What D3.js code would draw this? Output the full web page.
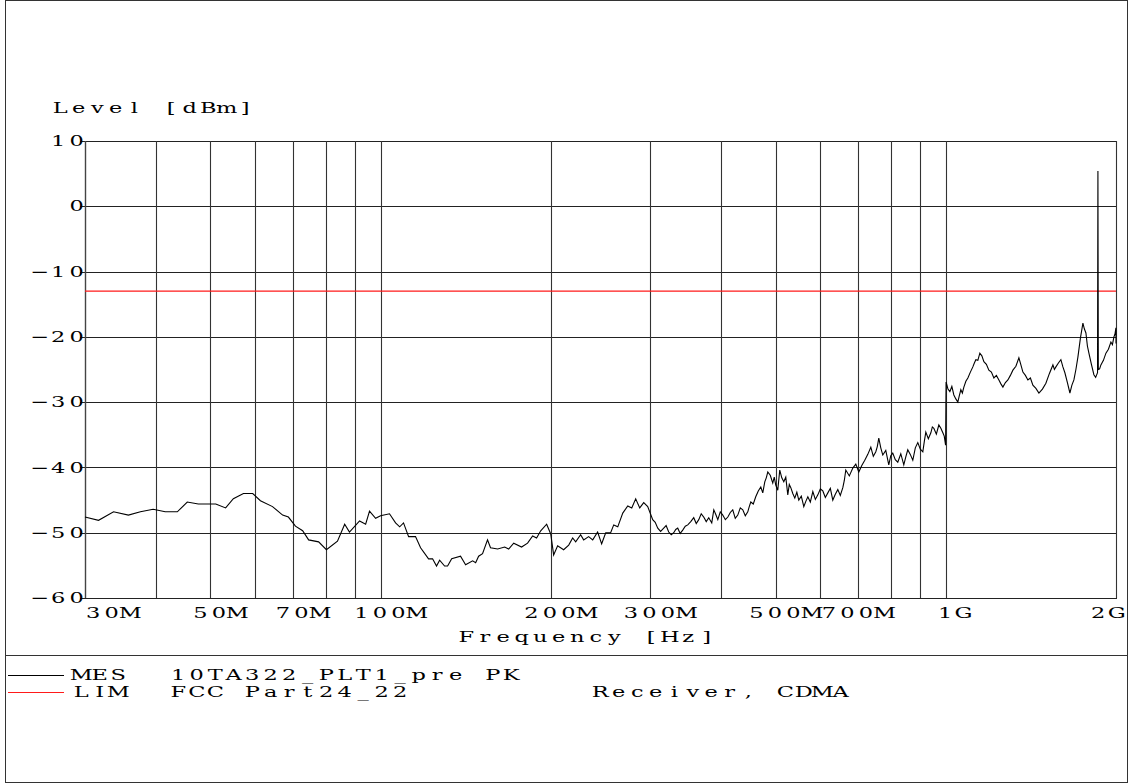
<!DOCTYPE html>
<html><head><meta charset="utf-8">
<script src="https://cdn.jsdelivr.net/npm/d3@7"></script>
<style>
html,body{margin:0;padding:0;background:#fff;}
svg text{white-space:pre;}
</style></head>
<body>
<svg id="chart" width="1129" height="784"></svg>
<script>
// ---------------- data ----------------
const yTicks = [10, 0, -10, -20, -30, -40, -50, -60];
const yTickLabels = ["10", "0", "−10", "−20", "−30", "−40", "−50", "−60"];
const gridFreqMHz = [40, 50, 60, 70, 80, 90, 100, 200, 300, 400, 500, 600, 700, 800, 900, 1000, 2000];
const xTickFreqMHz = [30, 50, 70, 100, 200, 300, 500, 700, 1000, 2000];
const xTickLabels = ["30M", "50M", "70M", "100M", "200M", "300M", "500M", "700M", "1G", "2G"];
const limFreqMHz = [30, 2000];
const limLevel = [-13, -13];
// MES trace: [frequency MHz, level dBm]
const mesPoints = [
 [30.0,-47.6],[31.7,-48.1],[33.7,-46.8],[35.8,-47.3],[37.6,-46.8],[39.6,-46.4],[41.6,-46.8],[43.7,-46.8],
 [45.5,-45.3],[47.6,-45.6],[51.1,-45.6],[53.2,-46.2],[54.9,-44.8],[57.2,-44.0],[59.4,-44.0],[61.3,-45.1],
 [64.4,-46.0],[67.1,-47.3],[68.7,-47.6],[70.7,-49.0],[72.8,-49.7],[74.6,-51.1],[77.7,-51.4],[80.2,-52.6],
 [83.9,-51.3],[86.4,-48.7],[88.1,-49.9],[91.8,-48.2],[94.1,-48.7],[95.6,-46.7],[98.0,-47.8],[100.0,-47.4],
 [103.7,-47.1],[106.3,-48.5],[108.1,-49.1],[109.8,-48.5],[112.1,-50.6],[115.3,-50.6],[117.7,-52.3],[121.6,-54.0],
 [123.6,-54.0],[125.6,-55.1],[127.2,-54.2],[129.8,-55.1],[131.4,-55.1],[133.6,-54.0],[138.5,-53.6],[141.4,-54.9],
 [145.5,-54.3],[147.3,-54.6],[149.1,-53.6],[151.5,-53.2],[154.6,-51.1],[156.5,-52.3],[161.1,-52.5],[165.8,-52.2],
 [168.5,-52.5],[172.0,-51.6],[177.6,-52.2],[182.0,-51.6],[185.8,-50.5],[188.8,-50.8],[192.0,-49.7],[196.7,-48.7],
 [200.0,-50.2],[202.4,-53.4],[205.7,-52.0],[210.8,-52.6],[215.2,-51.9],[218.7,-50.8],[221.4,-51.4],[225.9,-50.3],
 [228.7,-51.1],[233.4,-50.6],[237.3,-51.1],[242.1,-49.9],[246.1,-51.7],[250.2,-50.0],[255.3,-50.0],[258.5,-48.8],
 [262.8,-49.1],[268.2,-47.0],[273.7,-45.9],[278.2,-46.2],[282.7,-44.8],[287.4,-46.2],[292.1,-45.4],[296.9,-46.0],
 [303.0,-48.0],[306.1,-48.4],[309.3,-49.3],[312.9,-49.8],[316.9,-49.3],[320.0,-48.9],[323.4,-49.9],[326.8,-50.3],
 [330.1,-50.0],[332.8,-49.5],[335.5,-49.3],[338.9,-50.1],[342.4,-49.6],[346.0,-49.0],[349.5,-48.8],[353.8,-48.3],
 [358.1,-47.7],[361.8,-48.6],[365.5,-48.0],[369.2,-47.1],[373.0,-47.6],[376.8,-48.3],[380.7,-47.7],[385.4,-48.5],
 [388.6,-46.5],[391.8,-47.2],[395.0,-48.0],[399.0,-46.8],[403.1,-47.3],[407.3,-48.0],[411.5,-47.6],[415.6,-46.9],
 [419.8,-46.5],[424.1,-47.8],[428.5,-47.3],[432.9,-46.2],[437.3,-46.5],[441.8,-47.4],[446.3,-46.8],[449.0,-46.0],
 [451.8,-45.3],[456.4,-45.6],[461.0,-44.5],[465.8,-43.6],[470.6,-43.0],[474.4,-43.9],[478.3,-42.2],[481.2,-41.6],
 [484.2,-40.7],[489.1,-41.2],[494.1,-42.4],[497.1,-41.5],[500.2,-42.7],[504.3,-43.5],[508.4,-40.4],[512.6,-41.6],
 [516.8,-42.2],[521.0,-41.5],[525.3,-44.2],[528.5,-42.6],[531.8,-43.1],[536.1,-44.0],[540.5,-44.7],[545.0,-43.8],
 [549.4,-45.0],[555.0,-44.4],[560.7,-46.0],[565.3,-45.2],[570.0,-44.5],[575.8,-45.3],[581.7,-43.7],[587.7,-44.9],
 [593.7,-44.2],[599.8,-43.3],[605.9,-43.6],[612.1,-44.6],[618.4,-43.9],[624.7,-43.2],[631.0,-45.0],[637.5,-44.1],
 [644.0,-43.4],[650.6,-44.3],[657.3,-43.1],[661.3,-42.0],[665.3,-40.4],[674.9,-41.3],[684.6,-40.1],[693.0,-39.5],
 [701.5,-40.7],[710.1,-39.7],[718.8,-38.9],[727.7,-38.0],[736.7,-36.9],[744.2,-38.3],[751.8,-37.6],[756.4,-36.8],
 [761.0,-35.5],[767.2,-37.0],[773.5,-38.1],[783.0,-37.4],[792.6,-39.6],[799.1,-38.2],[805.6,-37.8],[813.9,-38.8],
 [822.2,-39.2],[832.4,-37.9],[842.6,-39.6],[849.5,-38.4],[856.4,-37.3],[865.2,-38.0],[874.1,-38.9],[883.1,-37.0],
 [892.1,-36.2],[901.3,-37.2],[910.5,-37.6],[916.1,-36.0],[921.7,-34.6],[931.2,-35.6],[940.8,-34.7],[946.5,-33.8],
 [952.3,-34.0],[962.1,-34.9],[971.9,-33.5],[979.9,-34.0],[987.9,-34.7],[993.5,-35.2],[999,-36.6],
 [1001,-26.9],[1008.7,-28.0],[1016.5,-28.4],[1024.8,-27.6],[1033.2,-28.9],[1041.6,-29.5],[1050.1,-30.0],[1056.5,-29.0],
 [1063.0,-28.1],[1069.6,-28.6],[1076.2,-27.7],[1085.0,-26.8],[1093.9,-26.3],[1105.1,-25.4],[1116.3,-24.6],[1123.2,-24.0],
 [1130.1,-23.5],[1139.3,-23.6],[1148.6,-22.5],[1158.1,-22.9],[1167.6,-23.8],[1179.6,-24.2],[1191.6,-25.1],[1203.9,-25.4],
 [1216.2,-26.3],[1228.7,-25.9],[1241.3,-26.6],[1251.5,-27.2],[1261.7,-27.7],[1274.6,-27.0],[1287.5,-26.6],[1300.8,-25.9],
 [1314.1,-25.1],[1330.3,-24.5],[1346.6,-23.2],[1357.7,-24.3],[1368.8,-25.4],[1382.8,-25.9],[1396.9,-26.6],[1411.2,-26.3],
 [1425.6,-27.4],[1443.3,-27.9],[1461.0,-28.6],[1482.1,-28.0],[1503.2,-27.1],[1525.0,-25.6],[1546.7,-24.3],[1556.2,-25.0],
 [1565.7,-24.6],[1581.7,-24.0],[1597.8,-23.5],[1611.0,-24.6],[1624.1,-25.5],[1640.8,-27.0],[1657.6,-28.6],[1671.2,-27.4],
 [1684.8,-26.6],[1698.6,-25.0],[1712.5,-23.1],[1730.1,-20.2],[1747.8,-17.9],[1758.5,-18.8],[1769.3,-19.4],[1780.1,-21.4],
 [1791.0,-22.5],[1809.4,-24.2],[1827.8,-25.8],[1841,-26.2],[1855,-25.5],[1858,5.4],[1861,-25.0],[1870.8,-24.9],
 [1880.7,-24.3],[1900.1,-23.6],[1919.5,-22.5],[1939.2,-21.9],[1959.0,-20.8],[1971.0,-21.2],[1983.1,-20.0],[1991.3,-19.6],
 [1999.5,-18.6],[2000,-21.0]
];

// ---------------- layout ----------------
const PL = 85, PR = 1116, PT = 141, PB = 598;
const ADV = 18.5, SX = 1.5, FS = 15;
const FONT = "'DejaVu Serif', 'Liberation Serif', serif";

const svg = d3.select("#chart");
const x = d3.scaleLog().domain([30, 2000]).range([PL, PR]);
const y = d3.scaleLinear().domain([-60, 10]).range([PB, PT]);

function mono(str, x0, yb, opts = {}) {
  const xs = [...str].map((c, i) => ((x0 + (i + 0.5) * ADV) / SX).toFixed(2)).join(" ");
  return svg.append("text")
    .attr("transform", `translate(0,${yb}) scale(${SX},1)`)
    .attr("x", xs).attr("y", 0)
    .attr("text-anchor", "middle")
    .attr("font-family", FONT).attr("font-size", FS)
    .attr("fill", "#000")
    .attr("dominant-baseline", opts.central ? "central" : "auto")
    .text(str);
}

// outer frame & separator
svg.append("rect").attr("x", 5.5).attr("y", 0.5).attr("width", 1122).attr("height", 782)
  .attr("fill", "none").attr("stroke", "#333").attr("stroke-width", 1);
svg.append("line").attr("x1", 5).attr("x2", 1128).attr("y1", 655.5).attr("y2", 655.5)
  .attr("stroke", "#333").attr("stroke-width", 1.2);

// grid
const grid = svg.append("g");
grid.selectAll("line.h").data(yTicks).join("line")
  .attr("x1", PL - 5).attr("x2", PR + 1)
  .attr("y1", d => Math.round(y(d)) + 0.5).attr("y2", d => Math.round(y(d)) + 0.5)
  .attr("stroke", "#222").attr("stroke-width", 1);
grid.selectAll("line.v").data(gridFreqMHz).join("line")
  .attr("x1", d => Math.round(x(d)) + 0.5).attr("x2", d => Math.round(x(d)) + 0.5)
  .attr("y1", PT).attr("y2", PB)
  .attr("stroke", "#333").attr("stroke-width", 1.1);
svg.append("line").attr("x1", PL + 0.5).attr("x2", PL + 0.5).attr("y1", PT).attr("y2", PB)
  .attr("stroke", "#444").attr("stroke-width", 1.4);

// limit line
const lineGen = d3.line().x(d => x(d[0])).y(d => y(d[1]));
svg.append("path").datum(limFreqMHz.map((f, i) => [f, limLevel[i]]))
  .attr("d", lineGen).attr("fill", "none").attr("stroke", "#ff1a1a").attr("stroke-width", 1.2);

// measurement trace
svg.append("path").datum(mesPoints)
  .attr("d", lineGen).attr("fill", "none").attr("stroke", "#000").attr("stroke-width", 1.1);

// y tick labels
yTicks.forEach((v, i) => {
  const s = yTickLabels[i];
  mono(s, 86 - s.length * ADV, y(v), { central: true });
});
mono("Level [dBm]", 51, 113);
mono("Frequency [Hz]", 457, 642);

// x tick labels
xTickFreqMHz.forEach((f, i) => {
  const s = xTickLabels[i];
  const w = s.length * ADV;
  let x0 = x(f) + 8.5 - w / 2;
  if (f === 700) x0 -= 10;
  x0 = Math.max(84, Math.min(1126 - w, x0));
  mono(s, x0, 618);
});

// legend
svg.append("line").attr("x1", 8).attr("x2", 64).attr("y1", 675.5).attr("y2", 675.5).attr("stroke", "#000");
svg.append("line").attr("x1", 8).attr("x2", 64).attr("y1", 692.5).attr("y2", 692.5).attr("stroke", "#ff1a1a").attr("stroke-width", 1.2);
mono("MES", 72, 680);
mono("10TA322_PLT1_pre PK", 169, 680);
mono("LIM", 72, 697);
mono("FCC Part24_22", 169, 697);
mono("Receiver, CDMA", 591, 697);
</script>
</body></html>
